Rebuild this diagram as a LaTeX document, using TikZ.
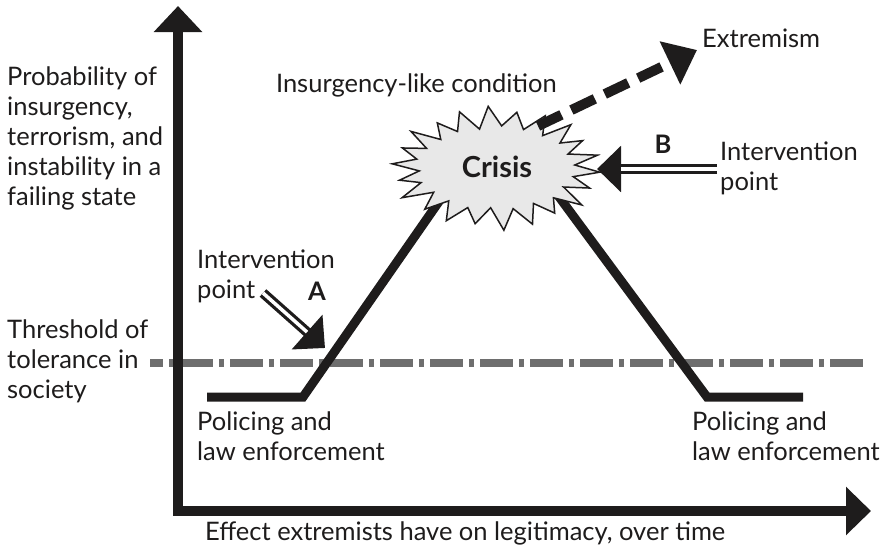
\documentclass[tikz,border=0pt]{standalone}
\usepackage{fontspec}
\setmainfont{Lato}
\usetikzlibrary{arrows.meta}
\definecolor{ink}{HTML}{1E1C1C}
\definecolor{thr}{HTML}{6E6E6E}
\definecolor{burst}{HTML}{E8E8E8}
\begin{document}
\begin{tikzpicture}[x=1pt,y=-1pt,
  lbl/.style={font=\fontsize{25.5}{30}\selectfont, text=ink, inner sep=0pt, align=left},
  bold/.style={font=\fontsize{25.5}{30}\selectfont\bfseries, text=ink, inner sep=0pt},
  axis/.style={draw=ink, line width=10pt, line join=miter},
  thresh/.style={draw=thr, line width=8pt, dash pattern=on 33pt off 6pt on 5pt off 6pt, dash phase=20pt},
  curve/.style={draw=ink, line width=9pt, line join=miter},
  burstst/.style={draw=ink, fill=burst, line width=1.5pt, line join=miter},
  dblout/.style={draw=ink, line width=10pt, -{Triangle[length=24pt,width=45pt]}},
  dblin/.style={draw=white, line width=3.5pt, shorten >=24pt},
  dashedarrow/.style={draw=ink, line width=10pt, dash pattern=on 26pt off 11pt, -{Triangle[length=30pt,width=46pt]}}
]
\useasboundingbox (0,0) rectangle (880,552);

% threshold line
\coordinate (thrL) at (150,363);
\coordinate (thrR) at (868,363);
\draw[thresh] (thrL) -- (thrR);

% axes
\coordinate (O) at (178,511);
\coordinate (ytip) at (178,6);
\coordinate (xtip) at (871,511);
\draw[axis, {Triangle[length=25pt,width=47pt]}-{Triangle[length=26pt,width=47pt]}] (xtip) -- (O) -- (ytip);

% curve
\coordinate (L0) at (207,397);
\coordinate (L1) at (303,397);
\coordinate (Ltop) at (447,190);
\coordinate (Rtop) at (554,190);
\coordinate (R1) at (707,397);
\coordinate (R0) at (803,397);
\draw[curve] (L0) -- (L1) -- (Ltop);
\draw[curve] (Rtop) -- (R1) -- (R0);

% crisis starburst
\coordinate (crisis) at (496,168);
\draw[burstst, shift={(crisis)}] (4:104 and 60)
  \foreach \kk/\fout/\fin in {0/0.96/1.00, 1/1.03/0.98, 2/0.94/1.02, 3/1.00/0.99, 4/1.04/1.01,
                          5/0.95/0.98, 6/1.00/1.02, 7/0.97/1.00, 8/1.03/0.99, 9/0.95/1.01,
                          10/1.00/0.98, 11/0.96/1.02, 12/1.02/1.00, 13/0.94/0.99, 14/1.00/1.01,
                          15/1.03/0.98, 16/0.95/1.02, 17/0.99/1.00, 18/1.02/0.99, 19/0.95/1.01,
                          20/1.00/0.98, 21/1.00/1.00}
  { -- ({\kk*360/22+4+360/44}:{104*\fin-25} and {60*\fin-19}) -- ({(\kk+1)*360/22+4}:{104*\fout} and {60*\fout}) }
  -- cycle;
\node[font=\fontsize{29}{30}\selectfont\bfseries, text=ink, inner sep=0pt] (crisislbl) at (497,167) {Crisis};

% extremism arrow
\coordinate (Xstart) at (538,126);
\node[lbl, anchor=base west] (extremism) at (702,47) {Extremism};
\coordinate (Xtip) at (697,50);
\draw[dashedarrow] (Xstart) -- (Xtip);

\node[lbl, anchor=base east] (cond) at (557,92) {Insurgency-like condition};

% intervention B
\node[lbl, anchor=base west] (intB) at (720,190) {Intervention\\point};
\coordinate (Bstart) at (717,169);
\coordinate (Btip) at (597,169);
\draw[dblout] (Bstart) -- (Btip);
\draw[dblin] (Bstart) -- (Btip);
\node[bold, anchor=base] (B) at (663,153) {B};

% intervention A
\node[lbl, anchor=base west] (intA) at (197,298) {Intervention\\point};
\coordinate (Astart) at (263,293);
\coordinate (Atip) at (325,348);
\draw[dblout] (Astart) -- (Atip);
\draw[dblin] (Astart) -- (Atip);
\node[bold, anchor=base] (A) at (317,300) {A};

% left labels
\node[lbl, anchor=base west] (prob) at (7,205) {Probability of\\insurgency,\\terrorism, and\\instability in a\\failing state};
\node[lbl, anchor=base west] (thres) at (7,398) {Threshold of\\tolerance in\\society};

% policing labels
\node[lbl, anchor=base west] (polL) at (197,460) {Policing and\\law enforcement};
\node[lbl, anchor=base west] (polR) at (692,460) {Policing and\\law enforcement};

% x axis label
\node[lbl, anchor=base west] (xlab) at (205,540) {Effect extremists have on legitimacy, over time};
\end{tikzpicture}
\end{document}
